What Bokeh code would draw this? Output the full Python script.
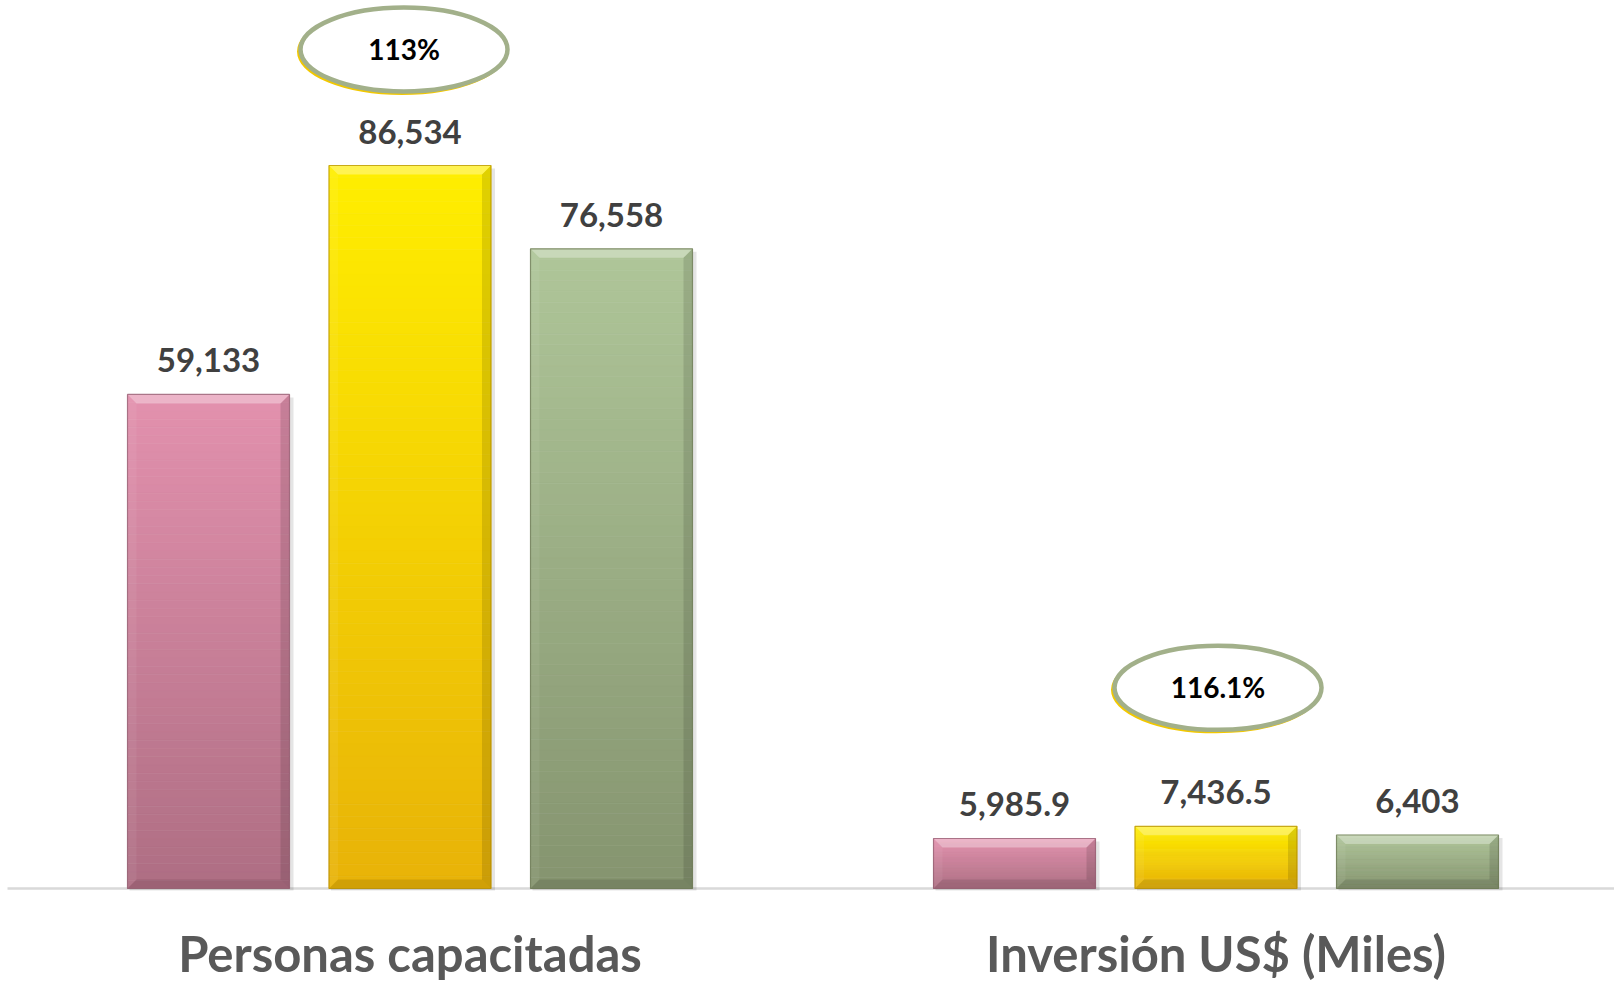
import numpy as np
from bokeh.plotting import figure
from bokeh.models import Range1d
from bokeh.embed import file_html
from bokeh.resources import INLINE
from bokeh.core.properties import value

# ---------------- data ----------------
categories = ["Personas capacitadas", "Inversión US$ (Miles)"]
serie_rosa = [59133, 5985.9]
serie_amarilla = [86534, 7436.5]
serie_verde = [76558, 6403]
pct_labels = ["113%", "116.1%"]

series = [serie_rosa, serie_amarilla, serie_verde]
# gradient (top colour, bottom colour) and outline colour for each series
top_colors = ["#E391AE", "#FFEF00", "#AFC699"]
bottom_colors = ["#AE6E83", "#E8B208", "#85946F"]
edge_colors = ["#8E5A6C", "#B08A00", "#66734F"]

# ---------------- layout ----------------
W, H = 1614, 984
GROUP_PX = 806.0           # px between category centres
XPX = 1.0 / GROUP_PX       # x units per px
x_start = -409.5 * XPX
x_end = x_start + W * XPX
UPP = 86534 / 723.0        # y units per px
BASE_FROM_BOTTOM = 96
y_start = -BASE_FROM_BOTTOM * UPP
y_end = (H - BASE_FROM_BOTTOM) * UPP

bar_offsets = [-201.5 * XPX, 0.0, 201.5 * XPX]
bar_w = 162 * XPX

p = figure(width=W, height=H, x_range=Range1d(x_start, x_end),
           y_range=Range1d(y_start, y_end), output_backend="svg",
           toolbar_location=None, x_axis_location=None, y_axis_location=None,
           min_border=0, min_border_left=0, min_border_right=0,
           min_border_top=0, min_border_bottom=0)
p.grid.visible = False
p.outline_line_color = None
p.background_fill_color = "white"
p.border_fill_color = "white"


def hex2rgb(h):
    h = h.lstrip("#")
    return np.array([int(h[i:i + 2], 16) for i in (0, 2, 4)], dtype=float)


def rgb2hex(c):
    c = np.clip(np.round(c), 0, 255).astype(int)
    return "#%02x%02x%02x" % tuple(c)


# baseline (category axis line)
p.line([x_start + 7 * XPX, x_end], [0, 0], line_color="#D9D9D9", line_width=2.5)

N = 60
sl_l, sl_r, sl_t, sl_b, sl_c = [], [], [], [], []
sh_l, sh_r, sh_t, sh_b = [], [], [], []
bev = {"top": [], "left": [], "right": [], "bottom": []}
out_l, out_r, out_t, out_b, out_c = [], [], [], [], []
lab_x, lab_y, lab_t = [], [], []

bx = 9 * XPX
by = 9 * UPP

for j, vals in enumerate(series):
    c_top = hex2rgb(top_colors[j])
    c_bot = hex2rgb(bottom_colors[j])
    for i, v in enumerate(vals):
        xc = i + bar_offsets[j]
        l, r = xc - bar_w / 2, xc + bar_w / 2
        # shadow
        sh_l.append(l + 2 * XPX); sh_r.append(r + 4 * XPX)
        sh_t.append(v - 3 * UPP); sh_b.append(-2 * UPP)
        for k in range(N):
            t = (k + 0.5) / N
            sl_l.append(l); sl_r.append(r)
            sl_t.append(v * (1 - k / N)); sl_b.append(v * (1 - (k + 1) / N))
            sl_c.append(rgb2hex(c_top * (1 - t) + c_bot * t))
        # bevel polygons
        bev["top"].append(([l, r, r - bx, l + bx], [v, v, v - by, v - by]))
        bev["left"].append(([l, l + bx, l + bx, l], [v, v - by, by, 0]))
        bev["right"].append(([r, r, r - bx, r - bx], [v, 0, by, v - by]))
        bev["bottom"].append(([l, r, r - bx, l + bx], [0, 0, by, by]))
        out_l.append(l); out_r.append(r); out_t.append(v); out_b.append(0)
        out_c.append(edge_colors[j])
        lab_x.append(xc); lab_y.append(v)
        lab_t.append(f"{v:,.0f}" if float(v).is_integer() else f"{v:,.1f}")

p.quad(left=sh_l, right=sh_r, top=sh_t, bottom=sh_b, fill_color="#000000",
       fill_alpha=0.10, line_color=None)
p.quad(left=sl_l, right=sl_r, top=sl_t, bottom=sl_b, fill_color=sl_c,
       line_color=sl_c, line_width=0.6)

bevel_style = {"top": ("#FFFFFF", 0.32), "left": ("#FFFFFF", 0.06),
               "right": ("#000000", 0.12), "bottom": ("#000000", 0.10)}
for side, polys in bev.items():
    col, a = bevel_style[side]
    p.patches([pp[0] for pp in polys], [pp[1] for pp in polys],
              fill_color=col, fill_alpha=a, line_color=None)

p.quad(left=out_l, right=out_r, top=out_t, bottom=out_b, fill_color=None,
       line_color=out_c, line_alpha=0.7, line_width=1.2)

# value labels
p.text(x=lab_x, y=lab_y, text=lab_t, text_align="center",
       text_baseline="alphabetic", y_offset=-34,
       text_font=value("Lato"), text_font_style="bold",
       text_font_size="33px", text_color="#404040")

# category labels
p.text(x=list(range(len(categories))), y=[0] * len(categories), text=categories,
       text_align="center", text_baseline="alphabetic", y_offset=64,
       text_font=value("Lato"), text_font_style="bold",
       text_font_size="49px", text_color="#595959")

# percentage ellipses above the yellow bars
ellipse_gap_px = [116, 138.5]
ellipse_dx_px = [-6, 2]
ex = [i + bar_offsets[1] + ellipse_dx_px[i] * XPX for i in range(len(categories))]
ey = [serie_amarilla[i] + ellipse_gap_px[i] * UPP for i in range(len(categories))]
p.ellipse(x=[x - 2 * XPX for x in ex], y=[y - 2 * UPP for y in ey],
          width=207, height=84, width_units="screen", height_units="screen",
          fill_color=None, line_color="#F2C800", line_width=3)
p.ellipse(x=ex, y=ey, width=207, height=84, width_units="screen",
          height_units="screen", fill_color="white", line_color="#A2B08A",
          line_width=4.5)
p.text(x=ex, y=ey, text=pct_labels, text_align="center",
       text_baseline="alphabetic", y_offset=-1,
       text_font=value("Lato"), text_font_style="bold",
       text_font_size="28px", text_color="#000000")

open("out.html", "w").write(file_html(p, INLINE))
